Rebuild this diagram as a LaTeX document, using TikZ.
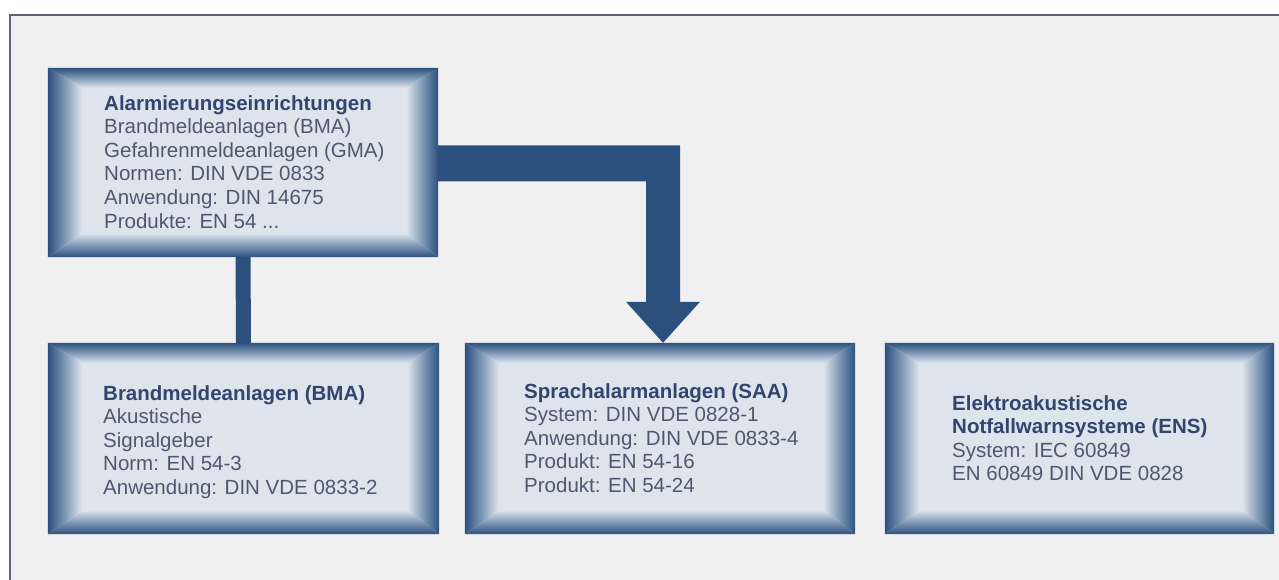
\documentclass[tikz,border=0pt]{standalone}
\usepackage{fontspec}
\setmainfont{Liberation Sans}
\usetikzlibrary{calc}
\definecolor{bdark}{HTML}{2C507E}
\definecolor{bmid}{HTML}{7F98B6}
\definecolor{blight}{HTML}{DDE4EC}
\definecolor{bgcol}{HTML}{F0F0F0}
\definecolor{framecol}{HTML}{5A6378}
\definecolor{titlecol}{HTML}{33446E}
\definecolor{txtcol}{HTML}{505870}
\newcommand{\bevelize}[1]{%
  \coordinate (#1-inw) at ($(#1.north west)+(34,20)$);
  \coordinate (#1-ine) at ($(#1.north east)+(-32,20)$);
  \coordinate (#1-ise) at ($(#1.south east)+(-32,-24)$);
  \coordinate (#1-isw) at ($(#1.south west)+(34,-24)$);
  \fill[blight] (#1-inw) rectangle (#1-ise);
  \shade[left color=bdark, right color=blight, middle color=bmid] (#1.north west) -- (#1-inw) -- (#1-isw) -- (#1.south west) -- cycle;
  \shade[right color=bdark, left color=blight, middle color=bmid] (#1.north east) -- (#1-ine) -- (#1-ise) -- (#1.south east) -- cycle;
  \shade[top color=bdark, bottom color=blight, middle color=bmid] (#1.north west) -- (#1.north east) -- (#1-ine) -- (#1-inw) -- cycle;
  \shade[bottom color=bdark, top color=blight, middle color=bmid] (#1.south west) -- (#1.south east) -- (#1-ise) -- (#1-isw) -- cycle;
}
\tikzset{
  boxshape/.style={rectangle, inner sep=0, minimum height=191pt},
  conn/.style={bdark},
  txt/.style={anchor=north west, inner sep=0, align=left, text=txtcol,
    font=\fontsize{20.5}{23.6}\selectfont},
  ttl/.style={text=titlecol}
}
\begin{document}
\begin{tikzpicture}[x=1pt,y=-1pt]
\useasboundingbox (0,0) rectangle (1279,580);
\fill[white] (0,0) rectangle (1279,580);
\fill[bgcol] (9.5,15) rectangle (1279,580);
\draw[framecol, line width=2pt] (9.5,580) -- (9.5,15) -- (1279,15);

\node[boxshape, minimum width=390pt, minimum height=189pt] (b1) at (243,162.5) {};
\node[boxshape, minimum width=391pt] (b2) at (243.5,438.5) {};
\node[boxshape, minimum width=390pt] (b3) at (660,438.5) {};
\node[boxshape, minimum width=389pt] (b4) at (1079.5,438.5) {};

\draw[conn, line width=15pt] (b1.south) -- (b2.north);
\coordinate (tip) at ($(b3.north)+(3,0)$);
\fill[conn] ($(b1.east)+(-1,-17)$) -- ($(tip |- b1.east)+(17,-17)$) -- ($(tip)+(17,-41)$)
  -- ($(tip)+(37,-41)$) -- (tip) -- ($(tip)+(-37,-41)$) -- ($(tip)+(-17,-41)$)
  -- ($(tip |- b1.east)+(-17,19)$) -- ($(b1.east)+(-1,19)$) -- cycle;

\bevelize{b1}
\bevelize{b2}
\bevelize{b3}
\bevelize{b4}

\node[txt] (t1) at (104,95) {{\color{titlecol}\bfseries Alarmierungseinrichtungen}\\Brandmeldeanlagen (BMA)\\Gefahrenmeldeanlagen (GMA)\\Normen: DIN VDE 0833\\Anwendung: DIN 14675\\Produkte: EN 54 ...};
\node[txt] (t2) at (103,385) {{\color{titlecol}\bfseries Brandmeldeanlagen (BMA)}\\Akustische\\Signalgeber\\Norm: EN 54-3\\Anwendung: DIN VDE 0833-2};
\node[txt] (t3) at (524,383) {{\color{titlecol}\bfseries Sprachalarmanlagen (SAA)}\\System: DIN VDE 0828-1\\Anwendung: DIN VDE 0833-4\\Produkt: EN 54-16\\Produkt: EN 54-24};
\node[txt] (t4) at (952,395) {{\color{titlecol}\bfseries Elektroakustische}\\{\color{titlecol}\bfseries Notfallwarnsysteme (ENS)}\\System: IEC 60849\\EN 60849 DIN VDE 0828};
\end{tikzpicture}
\end{document}
